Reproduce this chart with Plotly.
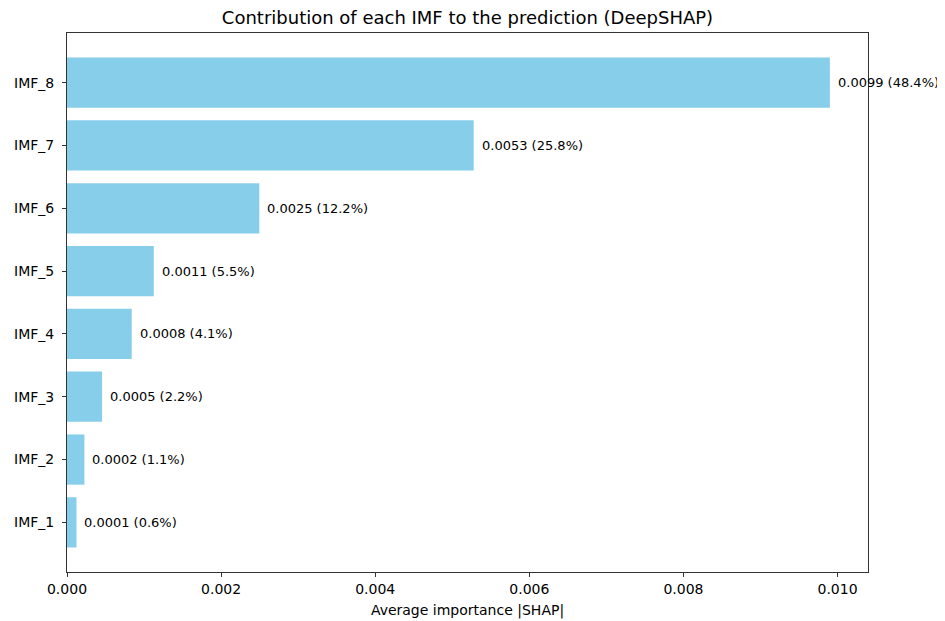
import plotly.graph_objects as go

categories = ["IMF_1", "IMF_2", "IMF_3", "IMF_4", "IMF_5", "IMF_6", "IMF_7", "IMF_8"]
values = [0.000123, 0.000226, 0.000455, 0.000840, 0.001126, 0.002496, 0.005278, 0.009900]
x_ticks = [0.000, 0.002, 0.004, 0.006, 0.008, 0.010]

total = sum(values)
labels = [f"{v:.4f} ({v / total * 100:.1f}%)" for v in values]

FONT = "DejaVu Sans"
W, H = 945, 621
OFF = 8  # page body margin offset
L, R, T, B = 67 - OFF, W - 868 + OFF, 33 - OFF, H - 572 + OFF

fig = go.Figure()
fig.add_trace(go.Bar(
    x=values, y=categories, orientation="h",
    marker=dict(color="#87CEEB", line=dict(width=0)),
    width=0.8,
    hoverinfo="x+y",
))
for c, v, t in zip(categories, values, labels):
    fig.add_annotation(x=v, y=c, text=t, xanchor="left", yanchor="middle",
                       xshift=6, showarrow=False,
                       font=dict(family=FONT, size=13, color="#000000"))

xmax = max(values) * 1.05
fig.update_layout(
    width=W, height=H,
    margin=dict(l=L, r=R, t=T, b=B),
    plot_bgcolor="white", paper_bgcolor="white",
    showlegend=False,
    title=dict(text="Contribution of each IMF to the prediction (DeepSHAP)",
               x=((67 + 868) / 2 - OFF) / W, xanchor="center",
               y=1 - (18 - OFF) / H, yanchor="middle",
               font=dict(family=FONT, size=18, color="#000000")),
    font=dict(family=FONT, size=14, color="#000000"),
)
fig.update_xaxes(
    range=[0, xmax], tickvals=x_ticks, tickformat=".3f",
    showline=True, linecolor="#333333", linewidth=1, mirror=True,
    ticks="outside", ticklen=4, tickcolor="#333333",
    showgrid=False, zeroline=False, automargin=False,
    title=dict(text="Average importance |SHAP|", standoff=9, font=dict(family=FONT, size=14)),
    tickfont=dict(family=FONT, size=14),
)
fig.update_yaxes(
    range=[-0.79, 7.79],
    showline=True, linecolor="#333333", linewidth=1, mirror=True,
    ticks="outside", ticklen=4, tickcolor="#333333",
    showgrid=False, zeroline=False, automargin=False,
    ticklabelstandoff=5,
    tickfont=dict(family=FONT, size=14),
)
fig.write_html("out.html")
